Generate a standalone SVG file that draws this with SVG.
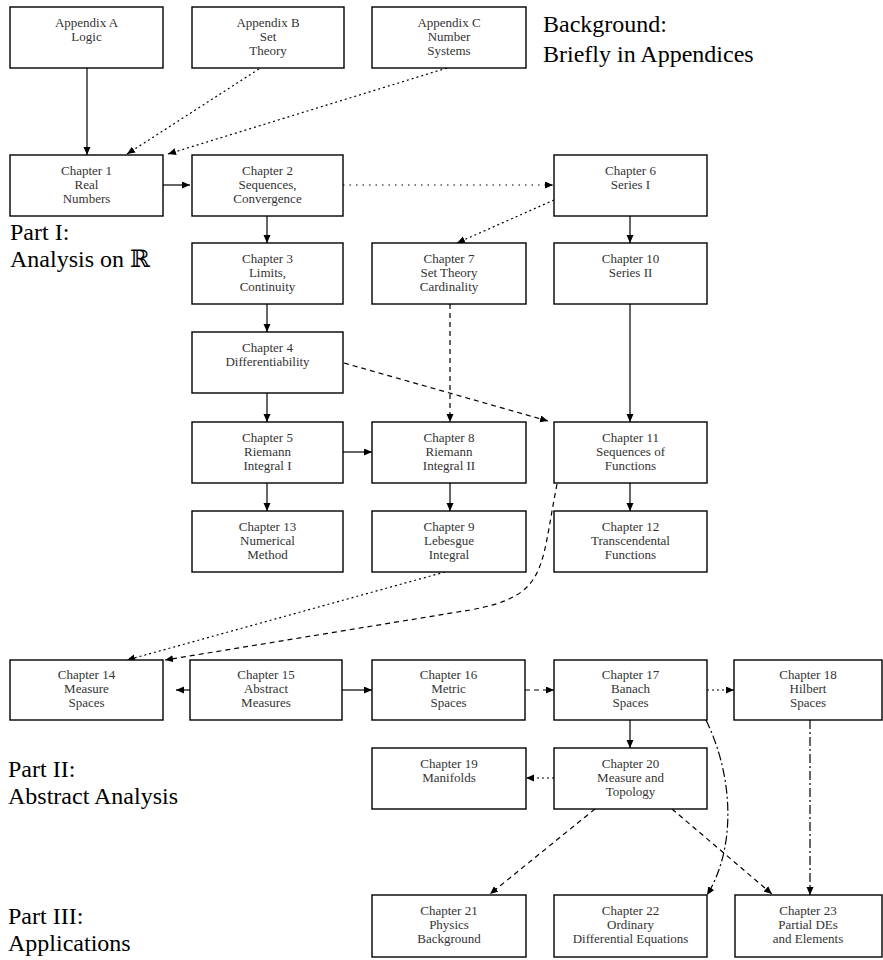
<svg xmlns="http://www.w3.org/2000/svg" width="883" height="960" viewBox="0 0 883 960">
<style>
.box{fill:#fff;stroke:#000;stroke-width:1.4}
.t{font-family:"Liberation Serif","DejaVu Serif",serif;font-size:13px;fill:#333;text-anchor:middle}
.h{font-family:"Liberation Serif","DejaVu Serif",serif;font-size:24px;fill:#000}
.c{fill:none;stroke:#000;stroke-width:1.2}
.dot{stroke-dasharray:2 3}
.sparse{stroke-dasharray:1.5 5}
.dash{stroke-dasharray:5 4}
.dd{stroke-dasharray:9 3 2 3}
</style>
<defs>
<marker id="ah" markerUnits="userSpaceOnUse" markerWidth="9" markerHeight="8" refX="8" refY="3.5" orient="auto">
<path d="M0,0 L8,3.5 L0,7 z" fill="#000"/>
</marker>
</defs>
<rect width="883" height="960" fill="#fff"/>

<g id="labels" font-family="Liberation Serif, DejaVu Serif, serif">
<text class="h" x="543" y="32">Background:</text>
<text class="h" x="543" y="62">Briefly in Appendices</text>
<text class="h" x="10" y="240">Part I:</text>
<text class="h" x="10" y="267">Analysis on ℝ</text>
<text class="h" x="8" y="777">Part II:</text>
<text class="h" x="8" y="804">Abstract Analysis</text>
<text class="h" x="8" y="924">Part III:</text>
<text class="h" x="8" y="951">Applications</text>
</g>

<g id="connectors">
<line class="c" x1="87" y1="68" x2="87" y2="155" marker-end="url(#ah)"/>
<line class="c dot" x1="259" y1="69" x2="127" y2="154" marker-end="url(#ah)"/>
<line class="c dot" x1="447" y1="68" x2="168" y2="154" marker-end="url(#ah)"/>
<line class="c" x1="163" y1="185" x2="190" y2="185" marker-end="url(#ah)"/>
<line class="c sparse" x1="343" y1="185" x2="553" y2="185" marker-end="url(#ah)"/>
<line class="c" x1="267" y1="216" x2="267" y2="243" marker-end="url(#ah)"/>
<line class="c dot" x1="554" y1="200" x2="457" y2="243" marker-end="url(#ah)"/>
<line class="c" x1="630" y1="216" x2="630" y2="243" marker-end="url(#ah)"/>
<line class="c" x1="267" y1="304" x2="267" y2="332" marker-end="url(#ah)"/>
<line class="c" x1="630" y1="304" x2="630" y2="422" marker-end="url(#ah)"/>
<line class="c dash" x1="450" y1="304" x2="450" y2="422" marker-end="url(#ah)"/>
<line class="c dash" x1="344" y1="363" x2="548" y2="421" marker-end="url(#ah)"/>
<line class="c" x1="267" y1="393" x2="267" y2="422" marker-end="url(#ah)"/>
<line class="c" x1="343" y1="452" x2="372" y2="452" marker-end="url(#ah)"/>
<line class="c" x1="267" y1="483" x2="267" y2="511" marker-end="url(#ah)"/>
<line class="c" x1="450" y1="483" x2="450" y2="511" marker-end="url(#ah)"/>
<line class="c" x1="630" y1="483" x2="630" y2="511" marker-end="url(#ah)"/>
<line class="c dot" x1="445" y1="572" x2="127" y2="660" marker-end="url(#ah)"/>
<path class="c dash" d="M557 484 C540 570 548 596 470 610 L165 660" marker-end="url(#ah)"/>
<line class="c" x1="190" y1="690" x2="176" y2="690" marker-end="url(#ah)"/>
<line class="c" x1="342" y1="690" x2="372" y2="690" marker-end="url(#ah)"/>
<line class="c dash" x1="525" y1="690" x2="554" y2="690" marker-end="url(#ah)"/>
<line class="c dot" x1="707" y1="690" x2="734" y2="690" marker-end="url(#ah)"/>
<line class="c" x1="630" y1="720" x2="630" y2="748" marker-end="url(#ah)"/>
<path class="c dd" d="M706 720 C735 780 735 850 707 895" marker-end="url(#ah)"/>
<line class="c dot" x1="554" y1="778" x2="526" y2="778" marker-end="url(#ah)"/>
<line class="c dash" x1="595" y1="809" x2="490" y2="894" marker-end="url(#ah)"/>
<line class="c dash" x1="672" y1="809" x2="772" y2="894" marker-end="url(#ah)"/>
<line class="c dd" x1="810" y1="720" x2="810" y2="895" marker-end="url(#ah)"/>
</g>

<g id="appA"><rect class="box" x="10" y="7" width="153" height="61"/><text class="t" x="86.5" y="27">Appendix A</text><text class="t" x="86.5" y="41">Logic</text></g>
<g id="appB"><rect class="box" x="192" y="7" width="152" height="61"/><text class="t" x="268" y="27">Appendix B</text><text class="t" x="268" y="41">Set</text><text class="t" x="268" y="55">Theory</text></g>
<g id="appC"><rect class="box" x="372" y="7" width="154" height="61"/><text class="t" x="449" y="27">Appendix C</text><text class="t" x="449" y="41">Number</text><text class="t" x="449" y="55">Systems</text></g>

<g id="ch1"><rect class="box" x="10" y="155" width="153" height="61"/><text class="t" x="86.5" y="175">Chapter 1</text><text class="t" x="86.5" y="189">Real</text><text class="t" x="86.5" y="203">Numbers</text></g>
<g id="ch2"><rect class="box" x="192" y="155" width="151" height="61"/><text class="t" x="267.5" y="175">Chapter 2</text><text class="t" x="267.5" y="189">Sequences,</text><text class="t" x="267.5" y="203">Convergence</text></g>
<g id="ch6"><rect class="box" x="554" y="155" width="153" height="61"/><text class="t" x="630.5" y="175">Chapter 6</text><text class="t" x="630.5" y="189">Series I</text></g>

<g id="ch3"><rect class="box" x="192" y="243" width="151" height="61"/><text class="t" x="267.5" y="263">Chapter 3</text><text class="t" x="267.5" y="277">Limits,</text><text class="t" x="267.5" y="291">Continuity</text></g>
<g id="ch7"><rect class="box" x="372" y="243" width="154" height="61"/><text class="t" x="449" y="263">Chapter 7</text><text class="t" x="449" y="277">Set Theory</text><text class="t" x="449" y="291">Cardinality</text></g>
<g id="ch10"><rect class="box" x="554" y="243" width="153" height="61"/><text class="t" x="630.5" y="263">Chapter 10</text><text class="t" x="630.5" y="277">Series II</text></g>

<g id="ch4"><rect class="box" x="192" y="332" width="151" height="61"/><text class="t" x="267.5" y="352">Chapter 4</text><text class="t" x="267.5" y="366">Differentiability</text></g>

<g id="ch5"><rect class="box" x="192" y="422" width="151" height="61"/><text class="t" x="267.5" y="442">Chapter 5</text><text class="t" x="267.5" y="456">Riemann</text><text class="t" x="267.5" y="470">Integral I</text></g>
<g id="ch8"><rect class="box" x="372" y="422" width="154" height="61"/><text class="t" x="449" y="442">Chapter 8</text><text class="t" x="449" y="456">Riemann</text><text class="t" x="449" y="470">Integral II</text></g>
<g id="ch11"><rect class="box" x="554" y="422" width="153" height="61"/><text class="t" x="630.5" y="442">Chapter 11</text><text class="t" x="630.5" y="456">Sequences of</text><text class="t" x="630.5" y="470">Functions</text></g>

<g id="ch13"><rect class="box" x="192" y="511" width="151" height="61"/><text class="t" x="267.5" y="531">Chapter 13</text><text class="t" x="267.5" y="545">Numerical</text><text class="t" x="267.5" y="559">Method</text></g>
<g id="ch9"><rect class="box" x="372" y="511" width="154" height="61"/><text class="t" x="449" y="531">Chapter 9</text><text class="t" x="449" y="545">Lebesgue</text><text class="t" x="449" y="559">Integral</text></g>
<g id="ch12"><rect class="box" x="554" y="511" width="153" height="61"/><text class="t" x="630.5" y="531">Chapter 12</text><text class="t" x="630.5" y="545">Transcendental</text><text class="t" x="630.5" y="559">Functions</text></g>

<g id="ch14"><rect class="box" x="10" y="660" width="153" height="60"/><text class="t" x="86.5" y="679">Chapter 14</text><text class="t" x="86.5" y="693">Measure</text><text class="t" x="86.5" y="707">Spaces</text></g>
<g id="ch15"><rect class="box" x="190" y="660" width="152" height="60"/><text class="t" x="266" y="679">Chapter 15</text><text class="t" x="266" y="693">Abstract</text><text class="t" x="266" y="707">Measures</text></g>
<g id="ch16"><rect class="box" x="372" y="660" width="153" height="60"/><text class="t" x="448.5" y="679">Chapter 16</text><text class="t" x="448.5" y="693">Metric</text><text class="t" x="448.5" y="707">Spaces</text></g>
<g id="ch17"><rect class="box" x="554" y="660" width="153" height="60"/><text class="t" x="630.5" y="679">Chapter 17</text><text class="t" x="630.5" y="693">Banach</text><text class="t" x="630.5" y="707">Spaces</text></g>
<g id="ch18"><rect class="box" x="734" y="660" width="148" height="60"/><text class="t" x="808" y="679">Chapter 18</text><text class="t" x="808" y="693">Hilbert</text><text class="t" x="808" y="707">Spaces</text></g>

<g id="ch19"><rect class="box" x="372" y="748" width="154" height="61"/><text class="t" x="449" y="768">Chapter 19</text><text class="t" x="449" y="782">Manifolds</text></g>
<g id="ch20"><rect class="box" x="554" y="748" width="153" height="61"/><text class="t" x="630.5" y="768">Chapter 20</text><text class="t" x="630.5" y="782">Measure and</text><text class="t" x="630.5" y="796">Topology</text></g>

<g id="ch21"><rect class="box" x="372" y="895" width="154" height="62"/><text class="t" x="449" y="915">Chapter 21</text><text class="t" x="449" y="929">Physics</text><text class="t" x="449" y="943">Background</text></g>
<g id="ch22"><rect class="box" x="554" y="895" width="153" height="62"/><text class="t" x="630.5" y="915">Chapter 22</text><text class="t" x="630.5" y="929">Ordinary</text><text class="t" x="630.5" y="943">Differential Equations</text></g>
<g id="ch23"><rect class="box" x="735" y="895" width="147" height="62"/><text class="t" x="808" y="915">Chapter 23</text><text class="t" x="808" y="929">Partial DEs</text><text class="t" x="808" y="943">and Elements</text></g>
</svg>
